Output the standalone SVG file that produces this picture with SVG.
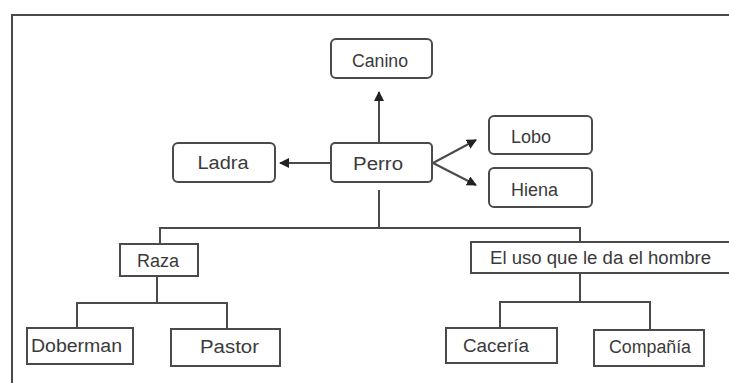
<svg xmlns="http://www.w3.org/2000/svg" width="729" height="383" viewBox="0 0 729 383">
<style>
.box{fill:#fff;stroke:#4a4a4a;stroke-width:2}
.ln{fill:none;stroke:#4a4a4a;stroke-width:2}
text{font-family:"Liberation Sans","DejaVu Sans",sans-serif;font-size:18px;fill:#3a3a3a}
</style>
<defs>
<marker id="ah" viewBox="0 0 10 10" refX="9" refY="5" markerWidth="5" markerHeight="5" orient="auto" markerUnits="strokeWidth">
<path d="M0,0 L10,5 L0,10 z" fill="#222"/>
</marker>
</defs>
<rect x="0" y="0" width="729" height="383" fill="#fff"/>
<g id="frame">
<path class="ln" d="M12,383 V15 H729" stroke="#333"/>
</g>
<g id="connectors">
<line class="ln" x1="379" y1="143" x2="379" y2="92" marker-end="url(#ah)"/>
<line class="ln" x1="331" y1="163" x2="280" y2="163" marker-end="url(#ah)"/>
<line class="ln" x1="433" y1="163" x2="476" y2="140" marker-end="url(#ah)"/>
<line class="ln" x1="433" y1="163" x2="476" y2="185" marker-end="url(#ah)"/>
<path class="ln" d="M379,190 V228"/>
<path class="ln" d="M160,244 V228 H580 V244"/>
<path class="ln" d="M157,276 V303"/>
<path class="ln" d="M77,328 V303 H227 V329"/>
<path class="ln" d="M580,273 V302"/>
<path class="ln" d="M500,328 V302 H650 V330"/>
</g>
<g id="canino"><rect class="box" x="331" y="39" width="101" height="39" rx="5"/><text x="380" y="67" text-anchor="middle" textLength="56" lengthAdjust="spacingAndGlyphs">Canino</text></g>
<g id="perro"><rect class="box" x="331" y="143" width="101" height="39" rx="4"/><text x="378" y="170" text-anchor="middle" textLength="50" lengthAdjust="spacingAndGlyphs">Perro</text></g>
<g id="ladra"><rect class="box" x="173" y="143" width="102" height="39" rx="5"/><text x="223" y="169" text-anchor="middle" textLength="51" lengthAdjust="spacingAndGlyphs">Ladra</text></g>
<g id="lobo"><rect class="box" x="489" y="116" width="103" height="38" rx="5"/><text x="511" y="143" textLength="40" lengthAdjust="spacingAndGlyphs">Lobo</text></g>
<g id="hiena"><rect class="box" x="489" y="168" width="103" height="39" rx="5"/><text x="511" y="196" textLength="47" lengthAdjust="spacingAndGlyphs">Hiena</text></g>
<g id="raza"><rect class="box" x="120" y="244" width="78" height="32"/><text x="137" y="267" textLength="42" lengthAdjust="spacingAndGlyphs">Raza</text></g>
<g id="eluso"><rect class="box" x="471" y="242" width="262" height="31"/><text x="490" y="264" textLength="221" lengthAdjust="spacingAndGlyphs">El uso que le da el hombre</text></g>
<g id="doberman"><rect class="box" x="27" y="328" width="106" height="36"/><text x="31" y="352" textLength="91" lengthAdjust="spacingAndGlyphs">Doberman</text></g>
<g id="pastor"><rect class="box" x="171" y="329" width="109" height="37"/><text x="200" y="353" textLength="59" lengthAdjust="spacingAndGlyphs">Pastor</text></g>
<g id="caceria"><rect class="box" x="446" y="328" width="111" height="35"/><text x="463" y="352" textLength="66" lengthAdjust="spacingAndGlyphs">Cacería</text></g>
<g id="compania"><rect class="box" x="594" y="330" width="110" height="36"/><text x="609" y="353" textLength="82" lengthAdjust="spacingAndGlyphs">Compañía</text></g>
</svg>
